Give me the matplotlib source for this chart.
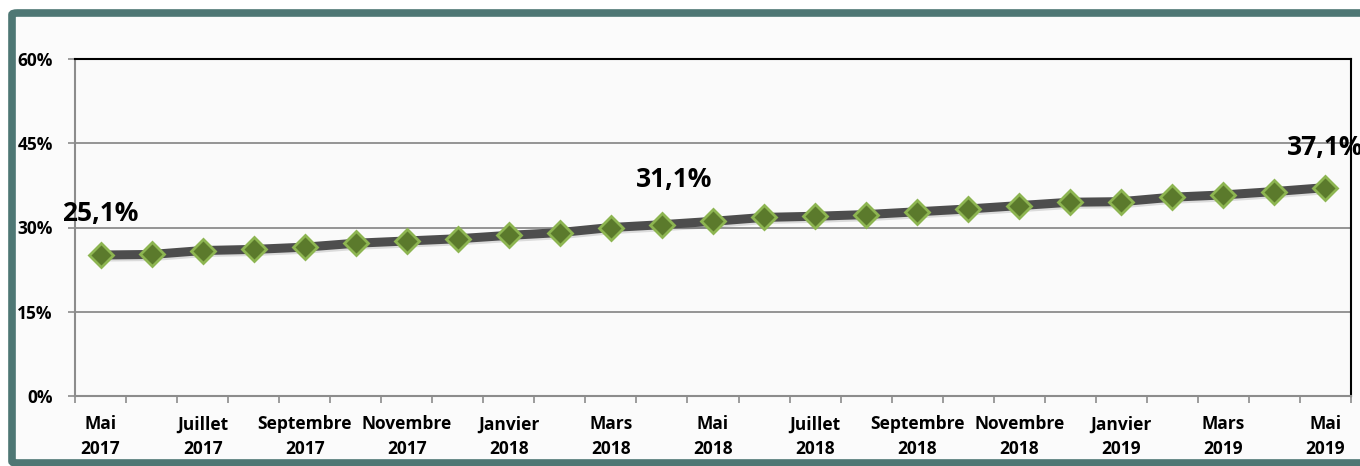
import matplotlib
matplotlib.use('Agg')
import matplotlib.pyplot as plt
import matplotlib.patheffects as pe
from matplotlib.patches import FancyBboxPatch
from matplotlib.ticker import FixedLocator, FuncFormatter

plt.rcParams['font.family'] = ['Open Sans', 'DejaVu Sans']

# Monthly share, Mai 2017 -> Mai 2019
months = ['Mai 2017', 'Juin 2017', 'Juillet 2017', 'Août 2017', 'Septembre 2017',
          'Octobre 2017', 'Novembre 2017', 'Décembre 2017', 'Janvier 2018',
          'Février 2018', 'Mars 2018', 'Avril 2018', 'Mai 2018', 'Juin 2018',
          'Juillet 2018', 'Août 2018', 'Septembre 2018', 'Octobre 2018',
          'Novembre 2018', 'Décembre 2018', 'Janvier 2019', 'Février 2019',
          'Mars 2019', 'Avril 2019', 'Mai 2019']
values = [25.1, 25.2, 25.9, 26.1, 26.5, 27.2, 27.6, 28.0, 28.6, 29.1, 30.0, 30.5,
          31.1, 31.8, 32.0, 32.3, 32.8, 33.3, 33.9, 34.5, 34.6, 35.4, 35.8, 36.4, 37.1]
tickLabels = ['Mai\n2017', 'Juillet\n2017', 'Septembre\n2017', 'Novembre\n2017',
              'Janvier\n2018', 'Mars\n2018', 'Mai\n2018', 'Juillet\n2018',
              'Septembre\n2018', 'Novembre\n2018', 'Janvier\n2019', 'Mars\n2019',
              'Mai\n2019']
labelIdx = [0, 12, 24]
yTicks = [0, 15, 30, 45, 60]

fig = plt.figure(figsize=(13.6, 4.66), dpi=100)
fig.patch.set_facecolor('white')

# teal frame around the chart (right side runs off the picture)
frame = FancyBboxPatch((12 / 1360, 3 / 466), 1.1, 450 / 466,
                       boxstyle='round,pad=0,rounding_size=0.004',
                       transform=fig.transFigure, facecolor='#fbfbfb',
                       edgecolor='#4e7774', linewidth=5.5, zorder=-10)
fig.patches.append(frame)

ax = fig.add_axes([75 / 1360, 1 - 396 / 466, 1276 / 1360, 337 / 466])
ax.set_zorder(1)
ax.set_facecolor('#fafafa')

x = list(range(len(values)))
ax.plot(x, values, color='#4d4d4d', linewidth=6.5, solid_joinstyle='round',
        zorder=3, path_effects=[pe.SimpleLineShadow(offset=(1, -1.5), alpha=0.12),
                                pe.Normal()])
ax.plot(x, values, linestyle='none', marker='D', markersize=12.5,
        markerfacecolor='#5b7a2c', markeredgecolor='#8db551', markeredgewidth=2,
        zorder=4)

offsets = {0: (0, 30), 12: (-28, 30), 24: (0, 29)}
for i in labelIdx:
    ax.annotate(f'{values[i]:.1f}%'.replace('.', ','), (x[i], values[i]),
                xytext=offsets[i], textcoords='offset points', ha='center',
                va='center', fontsize=19, fontweight='bold', color='black',
                annotation_clip=False, zorder=5)

ax.set_xlim(-0.5, len(values) - 0.5)
ax.set_ylim(0, 60)

ax.xaxis.set_major_locator(FixedLocator(x[::2]))
ax.set_xticklabels(tickLabels)
ax.xaxis.set_minor_locator(FixedLocator([i - 0.5 for i in range(len(values) + 1)]))
ax.tick_params(axis='x', which='major', length=0, pad=14, labelsize=12.5)
ax.tick_params(axis='x', which='minor', length=5, width=1.2, color='#8c8c8c')
for lab in ax.get_xticklabels():
    lab.set_fontweight('bold')
    lab.set_linespacing(1.45)

ax.set_yticks(yTicks)
ax.yaxis.set_major_formatter(FuncFormatter(lambda v, _: f'{int(v)}%'))
ax.tick_params(axis='y', length=5, width=1.2, color='#8c8c8c', pad=11, labelsize=12.5)
for lab in ax.get_yticklabels():
    lab.set_fontweight('bold')

ax.grid(axis='y', color='#8c8c8c', linewidth=1.3, zorder=1)
ax.set_axisbelow(True)

ax.spines['left'].set_color('#8c8c8c')
ax.spines['bottom'].set_color('#8c8c8c')
ax.spines['left'].set_linewidth(1.5)
ax.spines['bottom'].set_linewidth(1.5)
ax.spines['top'].set_color('black')
ax.spines['right'].set_color('black')
ax.spines['top'].set_linewidth(1.5)
ax.spines['right'].set_linewidth(1.5)

fig.savefig('out.png', dpi=100)
